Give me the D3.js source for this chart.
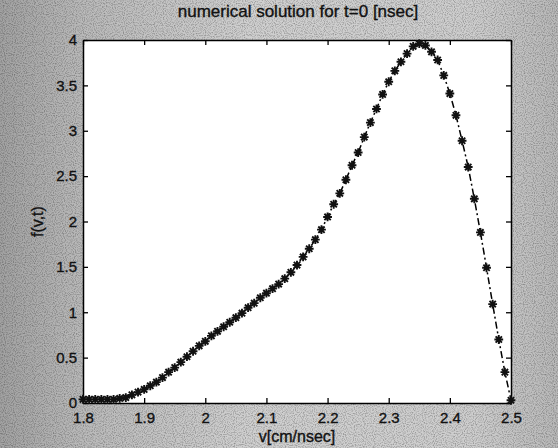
<!DOCTYPE html>
<html><head><meta charset="utf-8">
<script src="https://cdn.jsdelivr.net/npm/d3@7/dist/d3.min.js"></script>
<style>html,body{margin:0;padding:0;background:#c8c8c8;}svg{display:block;}</style>
</head><body>
<svg id="chart" width="558" height="448"></svg>
<script>
const titleText = "numerical solution for t=0 [nsec]";
const xLabel = "v[cm/nsec]";
const yLabel = "f(v,t)";
const xTicks = [1.8, 1.9, 2.0, 2.1, 2.2, 2.3, 2.4, 2.5];
const xTickLabels = ["1.8", "1.9", "2", "2.1", "2.2", "2.3", "2.4", "2.5"];
const yTicks = [0, 0.5, 1, 1.5, 2, 2.5, 3, 3.5, 4];
const yTickLabels = ["0", "0.5", "1", "1.5", "2", "2.5", "3", "3.5", "4"];
const v = [1.80,1.81,1.82,1.83,1.84,1.85,1.86,1.87,1.88,1.89,
           1.90,1.91,1.92,1.93,1.94,1.95,1.96,1.97,1.98,1.99,
           2.00,2.01,2.02,2.03,2.04,2.05,2.06,2.07,2.08,2.09,
           2.10,2.11,2.12,2.13,2.14,2.15,2.16,2.17,2.18,2.19,
           2.20,2.21,2.22,2.23,2.24,2.25,2.26,2.27,2.28,2.29,
           2.30,2.31,2.32,2.33,2.34,2.35,2.36,2.37,2.38,2.39,
           2.40,2.41,2.42,2.43,2.44,2.45,2.46,2.47,2.48,2.49,2.50];
const f = [0.04,0.04,0.04,0.04,0.04,0.04,0.05,0.06,0.09,0.12,
           0.15,0.19,0.23,0.28,0.34,0.39,0.45,0.51,0.57,0.63,
           0.68,0.74,0.79,0.84,0.89,0.94,0.99,1.05,1.10,1.16,
           1.21,1.26,1.31,1.37,1.44,1.52,1.61,1.70,1.80,1.91,
           2.05,2.19,2.31,2.46,2.62,2.76,2.93,3.09,3.24,3.40,
           3.54,3.66,3.76,3.85,3.93,3.96,3.94,3.87,3.78,3.61,
           3.41,3.17,2.89,2.60,2.25,1.88,1.49,1.09,0.70,0.34,0.03];

const W = 558, H = 448;
const m = {left: 83, right: 47, top: 40, bottom: 45};
const svg = d3.select("#chart");

const defs = svg.append("defs");
const g1 = defs.append("linearGradient").attr("id","bg").attr("x1","0").attr("x2","1").attr("y1","0").attr("y2","0");
g1.append("stop").attr("offset","0").attr("stop-color","#a2a2a2");
g1.append("stop").attr("offset","0.15").attr("stop-color","#bababa");
g1.append("stop").attr("offset","0.45").attr("stop-color","#d0d0d0");
g1.append("stop").attr("offset","0.85").attr("stop-color","#cecece");
g1.append("stop").attr("offset","1").attr("stop-color","#b8b8b8");
const flt = defs.append("filter").attr("id","noise").attr("x","0").attr("y","0").attr("width","100%").attr("height","100%");
flt.append("feTurbulence").attr("type","fractalNoise").attr("baseFrequency","0.9").attr("numOctaves","1").attr("seed","3").attr("result","n");
flt.append("feColorMatrix").attr("in","n").attr("type","matrix")
  .attr("values","0 0 0 0 0  0 0 0 0 0  0 0 0 0 0  0 0 0 -2.2 1.25");
svg.append("rect").attr("width",W).attr("height",H).attr("fill","url(#bg)");
svg.append("rect").attr("width",W).attr("height",H).attr("filter","url(#noise)").attr("opacity",0.35);

const x = d3.scaleLinear().domain([1.8, 2.5]).range([m.left, W - m.right]);
const y = d3.scaleLinear().domain([0, 4]).range([H - m.bottom, m.top]);

svg.append("rect").attr("x", m.left).attr("y", m.top)
  .attr("width", W - m.left - m.right).attr("height", H - m.top - m.bottom)
  .attr("fill", "#ffffff");

const font = "'Liberation Sans', Arial, Helvetica, sans-serif";
const tl = 5;
const fmtX = d => xTickLabels[xTicks.indexOf(d)];
const fmtY = d => yTickLabels[yTicks.indexOf(d)];

const gx = svg.append("g").attr("transform", `translate(0,${H - m.bottom})`)
  .call(d3.axisBottom(x).tickValues(xTicks).tickFormat(fmtX).tickSizeInner(-tl).tickSizeOuter(0).tickPadding(9));
const gxt = svg.append("g").attr("transform", `translate(0,${m.top})`)
  .call(d3.axisTop(x).tickValues(xTicks).tickFormat("").tickSizeInner(-tl).tickSizeOuter(0));
const gy = svg.append("g").attr("transform", `translate(${m.left},0)`)
  .call(d3.axisLeft(y).tickValues(yTicks).tickFormat(fmtY).tickSizeInner(-tl).tickSizeOuter(0).tickPadding(6));
const gyr = svg.append("g").attr("transform", `translate(${W - m.right},0)`)
  .call(d3.axisRight(y).tickValues(yTicks).tickFormat("").tickSizeInner(-tl).tickSizeOuter(0));
[gx, gxt, gy, gyr].forEach(g => {
  g.selectAll(".domain").attr("stroke", "#000").attr("stroke-width", 1.5);
  g.selectAll(".tick line").attr("stroke", "#000").attr("stroke-width", 1.3);
  g.selectAll(".tick text").attr("fill", "#111").attr("stroke", "#111").attr("stroke-width", 0.35)
    .style("font-family", font).style("font-size", "15px");
});

const line = d3.line().x((d, i) => x(v[i])).y(d => y(d));
svg.append("path").datum(f).attr("d", line).attr("fill", "none")
  .attr("stroke", "#000").attr("stroke-width", 1.5).attr("stroke-dasharray", "7,3,2,3");

const r = 4.4;
const star = `M${-r},0L${r},0M0,${-r}L0,${r}M${-r*0.72},${-r*0.72}L${r*0.72},${r*0.72}M${-r*0.72},${r*0.72}L${r*0.72},${-r*0.72}`;
svg.append("g").selectAll("path").data(f).join("path")
  .attr("transform", (d, i) => `translate(${x(v[i])},${y(d)})`)
  .attr("d", star).attr("fill", "none").attr("stroke", "#111").attr("stroke-width", 1.9);

const textStyle = (s, size) => s.style("font-family", font).style("font-size", size)
  .attr("fill", "#111").attr("stroke", "#111").attr("stroke-width", 0.35);
svg.append("text").attr("x", 298).attr("y", 17).attr("text-anchor", "middle").call(textStyle, "17px").text(titleText);
svg.append("text").attr("x", 297).attr("y", 442).attr("text-anchor", "middle").call(textStyle, "16px").text(xLabel);
svg.append("text").attr("transform", `translate(43,${(m.top + H - m.bottom) / 2}) rotate(-90)`)
  .attr("text-anchor", "middle").call(textStyle, "16px").text(yLabel);
</script>
</body></html>
